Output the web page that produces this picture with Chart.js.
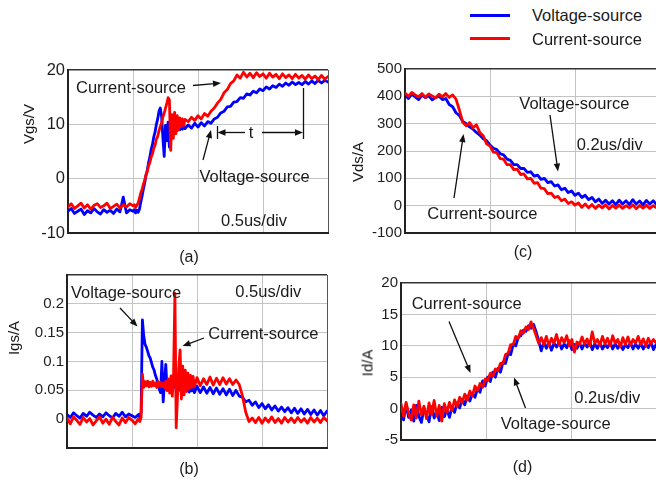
<!DOCTYPE html>
<html><head><meta charset="utf-8"><title>Gate drive waveforms</title>
<script src="https://cdn.jsdelivr.net/npm/chart.js@4.4.1/dist/chart.umd.min.js"></script>
<style>
html,body{margin:0;padding:0;background:#fff;overflow:hidden;width:656px;height:479px}
#wrap{position:relative;width:656px;height:479px;overflow:hidden;background:#fff;font-family:"Liberation Sans",Arial,Helvetica,sans-serif;color:#1a1a1a}
canvas{position:absolute}
.t{position:absolute;white-space:nowrap;font-size:16.5px;line-height:1;transform:translateY(-50%)}
.c{position:absolute;white-space:nowrap;font-size:16px;line-height:1;transform:translate(-50%,-50%)}
.r{position:absolute;white-space:nowrap;font-size:15px;line-height:1;transform:translate(-50%,-50%) rotate(-90deg)}
.leg{position:absolute;height:3px;width:40px}
</style></head>
<body>
<div id="wrap">
<canvas id="cA" width="340" height="205" style="left:0;top:55px"></canvas>
<canvas id="cB" width="340" height="215" style="left:0;top:260px"></canvas>
<canvas id="cC" width="335" height="200" style="left:335px;top:54px"></canvas>
<canvas id="cD" width="335" height="200" style="left:335px;top:268px"></canvas>

<div class="leg" style="left:470px;top:13.5px;background:#0000ff"></div>
<div class="t" style="left:532px;top:15px">Voltage-source</div>
<div class="leg" style="left:470px;top:37px;background:#ff0000"></div>
<div class="t" style="left:532px;top:38.5px">Current-source</div>

<div class="t" style="left:76px;top:86.5px">Current-source</div>
<div class="t" style="left:199.5px;top:176px">Voltage-source</div>
<div class="c" style="left:251px;top:132px;font-size:16.5px">t</div>
<div class="c" style="left:254px;top:220px;font-size:16.5px">0.5us/div</div>

<div class="t" style="left:71px;top:291.7px">Voltage-source</div>
<div class="c" style="left:268.3px;top:290.7px;font-size:16.5px">0.5us/div</div>
<div class="t" style="left:208.3px;top:333.3px">Current-source</div>

<div class="t" style="left:519.3px;top:103.3px">Voltage-source</div>
<div class="t" style="left:576.7px;top:144px">0.2us/div</div>
<div class="t" style="left:427.3px;top:213.3px">Current-source</div>

<div class="t" style="left:411.7px;top:303.3px">Current-source</div>
<div class="t" style="left:500.7px;top:423.3px">Voltage-source</div>
<div class="t" style="left:574.3px;top:396.7px">0.2us/div</div>

<div class="c" style="left:189px;top:256.7px">(a)</div>
<div class="c" style="left:189px;top:469px">(b)</div>
<div class="c" style="left:523px;top:251.7px">(c)</div>
<div class="c" style="left:522.5px;top:466.7px">(d)</div>

<div class="r" style="left:28px;top:124px">Vgs/V</div>
<div class="r" style="left:13.3px;top:338.3px">Igs/A</div>
<div class="r" style="left:357px;top:161.7px">Vds/A</div>
<div class="r" style="left:367px;top:362.5px">Id/A</div>
</div>
<script>
const FONT = '"Liberation Sans", Arial, Helvetica, sans-serif';
const BLUE = '#0000ff', RED = '#ff0000', GRID = '#c4c4c4', AXIS = '#222222';

// ---- Panel (a): Vgs (x in divisions, 0.5us/div)
const tA = [0,0.05,0.1,0.15,0.2,0.25,0.3,0.35,0.4,0.45,0.5,0.55,0.6,0.65,0.7,0.75,0.8,0.85,0.9,0.95,1.0,
1.02,1.04,1.06,1.08,1.1,1.12,1.14,1.16,1.18,1.2,1.22,1.24,1.26,1.28,1.3,1.32,1.34,1.36,1.38,1.4,1.42,1.44,1.46,1.48,1.5,1.52,1.54,1.56,1.58,1.6,1.62,1.64,1.66,1.68,1.7,1.72,1.74,1.76,1.78,1.8,
1.85,1.9,1.95,2.0,2.05,2.1,2.15,2.2,2.25,2.3,2.35,2.4,2.45,2.5,2.55,2.6,2.65,2.7,2.75,2.8,2.85,2.9,2.95,3.0,3.05,3.1,3.15,3.2,3.25,3.3,3.35,3.4,3.45,3.5,3.55,3.6,3.65,3.7,3.75,3.8,3.85,3.9,3.95,4.0];
const vgsVoltage = [-6.0,-5.5,-6.4,-6.0,-5.6,-6.6,-5.9,-6.3,-5.5,-6.1,-6.5,-5.7,-6.2,-5.8,-6.4,-5.6,-6.1,-3.4,-6.3,-5.7,-6.0,
-5.7,-6.3,-5.8,-6.2,-5.6,-4.3,-3.2,-1.9,-0.8,0.6,1.6,3.0,4.0,5.4,6.3,7.7,8.6,10.0,11.0,12.4,13.0,11.5,7.5,4.1,9.8,7.0,10.4,5.8,9.6,8.4,9.8,8.6,10.1,8.9,9.9,9.0,10.2,9.1,9.9,9.2,
9.9,9.3,10.2,9.5,10.3,9.7,10.5,10.2,11.0,11.3,12.1,12.4,13.2,13.3,14.1,14.2,14.9,14.8,15.6,15.4,16.1,15.8,16.5,16.2,16.9,16.5,17.1,16.8,17.4,17.0,17.6,17.2,17.8,17.3,17.7,17.3,17.9,17.4,18.0,17.5,18.1,17.6,18.1,17.8];
const vgsCurrent = [-5.2,-4.6,-5.5,-5.0,-4.5,-5.4,-4.8,-5.6,-4.9,-4.6,-5.3,-5.0,-4.5,-5.5,-5.1,-4.7,-5.4,-4.8,-5.2,-4.6,-5.0,
-4.8,-5.3,-4.9,-4.4,-3.6,-2.6,-2.0,-1.0,-0.3,0.7,1.3,2.4,3.0,4.0,4.6,5.6,6.2,7.3,7.8,8.8,9.6,10.2,11.4,12.0,13.0,13.8,14.9,14.5,5.2,11.8,7.4,12.2,8.3,11.6,9.0,11.2,9.6,11.0,9.8,10.9,
10.5,11.3,10.7,11.6,11.0,12.0,11.5,12.4,13.0,13.9,14.6,15.8,16.4,17.5,18.0,19.1,18.5,19.6,18.7,19.4,18.6,19.5,18.8,19.3,18.5,19.4,18.7,19.2,18.4,19.3,18.6,19.1,18.4,19.2,18.5,19.0,18.3,19.1,18.4,18.9,18.2,19.0,18.3,18.8];

// ---- Panel (b): Igs
const tB = [0,0.05,0.1,0.15,0.2,0.25,0.3,0.35,0.4,0.45,0.5,0.55,0.6,0.65,0.7,0.75,0.8,0.85,0.9,0.95,1.0,1.05,1.1,
1.12,1.14,1.16,1.18,1.2,1.22,1.24,1.26,1.28,1.3,1.32,1.34,1.36,1.38,1.4,1.42,1.44,1.46,1.48,1.5,1.52,1.54,1.56,1.58,1.6,1.62,1.64,1.66,1.68,1.7,1.72,1.74,1.76,1.78,1.8,1.82,1.84,1.86,1.88,1.9,1.92,1.94,1.96,
2.0,2.05,2.1,2.15,2.2,2.25,2.3,2.35,2.4,2.45,2.5,2.55,2.6,2.65,2.7,2.75,2.8,2.85,2.9,2.95,3.0,3.05,3.1,3.15,3.2,3.25,3.3,3.35,3.4,3.45,3.5,3.55,3.6,3.65,3.7,3.75,3.8,3.85,3.9,3.95,4.0];
const igsVoltage = [0.008,0.003,0.011,0.006,0.002,0.01,0.005,0.012,0.007,0.003,0.009,0.004,0.011,0.006,0.002,0.01,0.005,0.012,0.004,0.009,0.006,0.003,0.008,
0.004,0.012,0.172,0.145,0.13,0.125,0.118,0.11,0.106,0.098,0.09,0.085,0.076,0.07,0.06,0.052,0.046,0.1,0.03,0.065,0.095,0.05,0.062,0.055,0.068,0.05,0.058,0.06,0.052,0.064,0.05,0.062,0.054,0.06,0.048,0.061,0.05,0.059,0.047,0.06,0.049,0.058,0.046,
0.057,0.046,0.056,0.045,0.055,0.044,0.054,0.043,0.053,0.042,0.052,0.041,0.05,0.04,0.038,0.03,0.033,0.024,0.03,0.02,0.027,0.018,0.025,0.016,0.023,0.014,0.021,0.013,0.02,0.011,0.019,0.01,0.018,0.009,0.017,0.008,0.016,0.007,0.015,0.006,0.014];
const igsCurrent = [0.002,-0.008,0.004,-0.002,-0.009,0.003,-0.005,0.001,-0.01,-0.003,0.004,-0.007,0.0,-0.009,0.003,-0.004,-0.01,0.002,-0.006,0.003,-0.002,-0.008,0.001,
-0.004,0.003,0.078,0.055,0.065,0.058,0.066,0.056,0.064,0.057,0.066,0.058,0.063,0.055,0.065,0.057,0.064,0.056,0.062,0.055,0.066,0.05,0.07,0.045,0.075,0.04,0.08,0.218,-0.015,0.04,0.09,0.12,0.035,0.092,0.042,0.085,0.048,0.08,0.052,0.076,0.055,0.074,0.056,
0.072,0.058,0.07,0.06,0.073,0.059,0.071,0.06,0.072,0.061,0.07,0.06,0.068,0.06,0.04,0.012,-0.004,0.002,-0.006,0.003,-0.007,0.002,-0.005,0.004,-0.006,0.001,-0.007,0.003,-0.005,0.002,-0.006,0.003,-0.005,0.001,-0.007,0.003,-0.005,0.002,-0.006,0.003,-0.003];

// ---- Panel (c): Vds (0.2us/div)
const tC = [0,0.04,0.08,0.12,0.16,0.2,0.24,0.28,0.32,0.36,0.4,0.44,0.48,0.52,0.56,0.6,0.64,0.68,0.72,0.76,0.8,0.84,0.88,0.92,0.96,1.0,1.04,1.08,1.12,1.16,1.2,1.24,1.28,1.32,1.36,1.4,1.44,1.48,1.52,1.56,1.6,1.64,1.68,1.72,1.76,1.8,1.84,1.88,1.92,1.96,2.0,2.04,2.08,2.12,2.16,2.2,2.24,2.28,2.32,2.36,2.4,2.44,2.48,2.52,2.56,2.6,2.64,2.68,2.72,2.76,2.8,2.84,2.88,2.92,2.96,3.0];
const vdsVoltage = [405,392,408,398,388,404,395,402,387,396,400,388,392,370,362,340,330,308,300,288,280,268,258,245,238,222,210,205,190,186,170,166,150,150,136,136,122,124,108,112,96,100,84,88,72,76,58,64,48,54,38,46,30,38,22,30,14,24,8,20,6,18,4,20,6,18,4,22,6,17,3,19,6,18,4,16];
const vdsCurrent = [412,400,414,405,398,410,396,409,401,395,408,398,410,396,405,390,350,305,292,304,285,296,268,256,226,218,196,194,172,170,150,150,132,134,114,116,98,100,82,84,64,62,44,46,30,34,18,24,8,14,2,10,-6,6,-8,4,-10,2,-8,3,-12,1,-9,2,-10,0,-8,3,-11,1,-9,2,-10,0,-8,2];

// ---- Panel (d): Id (0.2us/div)
const tD = [0,0.03,0.06,0.09,0.12,0.15,0.18,0.21,0.24,0.27,0.3,0.33,0.36,0.39,0.42,0.45,0.48,0.51,0.54,0.57,0.6,0.63,0.66,0.69,0.72,0.75,0.78,0.81,0.84,0.87,0.9,0.93,0.96,0.99,1.02,1.05,1.08,1.11,1.14,1.17,1.2,1.23,1.26,1.29,1.32,1.35,1.38,1.41,1.44,1.47,1.5,1.53,1.56,1.59,1.62,1.65,1.68,1.71,1.74,1.77,1.8,1.83,1.86,1.89,1.92,1.95,1.98,2.01,2.04,2.07,2.1,2.13,2.16,2.19,2.22,2.25,2.28,2.31,2.34,2.37,2.4,2.43,2.46,2.49,2.52,2.55,2.58,2.61,2.64,2.67,2.7,2.73,2.76,2.79,2.82,2.85,2.88,2.91,2.94,2.97,3.0];
const idVoltage = [0.2,-1.8,0.6,-1.4,-0.2,-2.0,0.5,-1.2,-2.2,0.0,
-1.0,-2.1,0.3,-1.5,-0.4,-1.9,0.2,-1.3,-0.1,-1.4,
0.3,-0.6,0.9,0.1,1.5,0.6,2.0,1.2,2.4,1.8,
3.2,2.6,4.4,3.6,5.0,4.3,5.8,5.0,6.4,5.8,
7.4,7.2,8.8,8.6,10.2,10.0,11.4,11.6,12.5,12.3,
13.2,12.8,13.4,12.2,10.8,9.2,10.6,9.6,10.5,9.3,
10.4,9.8,10.6,9.5,10.3,9.7,10.8,9.4,10.2,9.6,
10.5,9.5,10.4,9.8,10.6,9.4,10.3,9.6,10.5,9.5,
10.2,9.7,10.6,9.5,10.3,9.6,10.4,9.4,10.2,9.7,
10.5,9.5,10.3,9.6,10.4,9.5,10.2,9.7,10.6,9.4,10.2];
const idCurrent = [0.8,-1.2,1.0,-0.8,-1.8,0.6,-1.5,1.2,-1.0,0.4,
-1.6,0.9,-0.9,1.3,-1.2,0.5,-2.0,0.8,-0.6,1.0,
-0.3,1.4,0.3,1.8,0.9,2.3,1.4,2.8,2.0,3.6,
2.9,4.0,3.4,4.7,4.5,5.6,5.2,6.3,6.0,7.2,
7.2,8.6,8.8,10.2,10.2,11.5,11.2,12.4,12.0,13.0,
12.6,13.8,12.8,11.6,10.4,11.3,10.2,11.5,10.0,11.2,
10.4,11.8,10.1,11.3,10.5,11.6,10.0,11.0,9.0,10.6,
10.2,11.4,10.3,11.1,10.0,12.2,10.4,11.0,10.1,11.5,
10.3,11.2,10.0,11.6,10.4,11.0,9.8,11.3,10.2,11.4,
10.1,11.0,10.4,11.5,10.2,11.1,10.0,11.2,10.3,11.0,10.5];

// ---- annotation arrows (page pixel coords: x1,y1,x2,y2,withHead)
const arrowsA = [[193,85.5,221,83,true],[203,160,211,130,true],[245,132.5,217.5,132.5,true],[262,132.5,303,132.5,true],[217.5,126,217.5,139,false],[303.5,88,303.5,139,false]];
const arrowsB = [[120,308,137.5,326.5,true],[204,338,182.5,346,true]];
const arrowsC = [[550,115,558,171.5,true],[454,198,463.5,134,true]];
const arrowsD = [[449,321.5,470.5,373,true],[525.5,408,514,377.5,true]];

const arrowPlugin = {
  id: 'arrows',
  afterDatasetsDraw(chart, args, opts) {
    const ctx = chart.ctx;
    ctx.save();
    ctx.strokeStyle = '#111'; ctx.fillStyle = '#111'; ctx.lineWidth = 1.3;
    (opts.items || []).forEach(a => {
      const x1 = a[0]-opts.ox, y1 = a[1]-opts.oy, x2 = a[2]-opts.ox, y2 = a[3]-opts.oy;
      const ang = Math.atan2(y2-y1, x2-x1);
      const L = 8, W = 3.2;
      const ex = a[4] ? x2 - Math.cos(ang)*L*0.8 : x2, ey = a[4] ? y2 - Math.sin(ang)*L*0.8 : y2;
      ctx.beginPath(); ctx.moveTo(x1,y1); ctx.lineTo(ex,ey); ctx.stroke();
      if (a[4]) {
        ctx.beginPath();
        ctx.moveTo(x2,y2);
        ctx.lineTo(x2 - Math.cos(ang)*L + Math.sin(ang)*W, y2 - Math.sin(ang)*L - Math.cos(ang)*W);
        ctx.lineTo(x2 - Math.cos(ang)*L - Math.sin(ang)*W, y2 - Math.sin(ang)*L + Math.cos(ang)*W);
        ctx.closePath(); ctx.fill();
      }
    });
    ctx.restore();
  }
};

const pts = (xs, ys) => xs.map((x, i) => ({ x: x, y: ys[i] }));
const near = (a, b) => Math.abs(a - b) < 1e-9;

function panel(id, o) {
  const line = { borderWidth: 2.8, pointRadius: 0, tension: 0, fill: false, borderJoinStyle: 'round', borderCapStyle: 'round' };
  return new Chart(document.getElementById(id), {
    type: 'line',
    data: { datasets: [
      Object.assign({ label: 'Voltage-source', data: pts(o.t, o.v), borderColor: BLUE, backgroundColor: BLUE, order: 2 }, line),
      Object.assign({ label: 'Current-source', data: pts(o.t, o.c), borderColor: RED, backgroundColor: RED, order: 1 }, line)
    ]},
    options: {
      responsive: false, animation: false, devicePixelRatio: 1, events: [],
      layout: { padding: { top: 15, right: o.padR, left: 0, bottom: 0 } },
      plugins: { legend: { display: false }, tooltip: { enabled: false },
        arrows: { ox: o.ox, oy: o.oy, items: o.arrows } },
      scales: {
        x: { type: 'linear', min: 0, max: o.xMax,
          ticks: { display: false, stepSize: 1 },
          grid: { drawTicks: false, color: c => (c.tick && near(c.tick.value, o.xMax)) ? '#555' : GRID, lineWidth: 1 },
          border: { display: true, color: AXIS, width: 2 },
          afterFit: s => { s.height = o.xH; } },
        y: { type: 'linear', min: o.yMin, max: o.yMax,
          ticks: { stepSize: o.step, padding: 3, color: '#1e1e1e', font: { family: FONT, size: o.fs }, callback: o.fmt },
          grid: { drawTicks: false, color: c => (c.tick && near(c.tick.value, o.yMax)) ? '#333' : GRID,
                  lineWidth: c => (c.tick && near(c.tick.value, o.yMax)) ? 1.5 : 1 },
          border: { display: true, color: AXIS, width: 2 },
          afterFit: s => { s.width = o.yW; } }
      }
    },
    plugins: [arrowPlugin]
  });
}

const intFmt = v => String(Math.round(v));
panel('cA', { t: tA, v: vgsVoltage, c: vgsCurrent, ox: 0, oy: 55, padR: 12, xH: 27, yW: 68,
  xMax: 4, yMin: -10, yMax: 20, step: 10, fs: 16.5, fmt: intFmt, arrows: arrowsA });
panel('cB', { t: tB, v: igsVoltage, c: igsCurrent, ox: 0, oy: 260, padR: 13, xH: 27, yW: 67,
  xMax: 4, yMin: -0.05, yMax: 0.25, step: 0.05, fs: 15,
  fmt: v => (v < -1e-6 || v > 0.2 + 1e-6) ? '' : String(Math.round(v * 100) / 100), arrows: arrowsB });
panel('cC', { t: tC, v: vdsVoltage, c: vdsCurrent, ox: 335, oy: 54, padR: 10, xH: 21, yW: 70,
  xMax: 3, yMin: -100, yMax: 500, step: 100, fs: 15, fmt: intFmt, arrows: arrowsC });
panel('cD', { t: tD, v: idVoltage, c: idCurrent, ox: 335, oy: 268, padR: 14, xH: 28, yW: 66,
  xMax: 3, yMin: -5, yMax: 20, step: 5, fs: 15, fmt: intFmt, arrows: arrowsD });
</script>
</body></html>
